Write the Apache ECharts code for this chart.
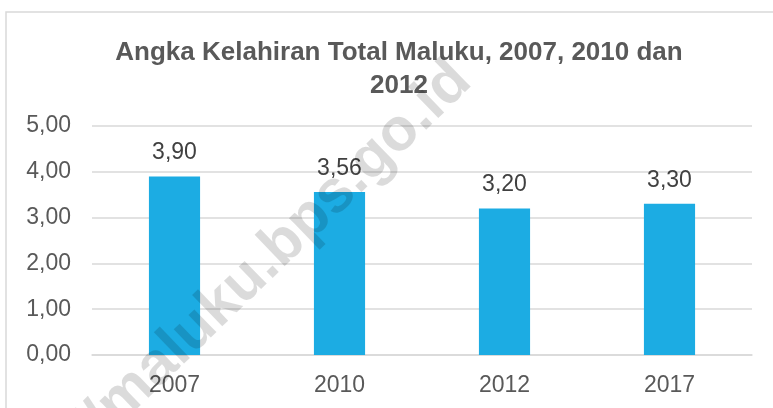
<!DOCTYPE html>
<html>
<head>
<meta charset="utf-8">
<script src="https://cdn.jsdelivr.net/npm/echarts@6/dist/echarts.min.js"></script>
<style>
html,body{margin:0;padding:0;background:#fff;}
#chart{width:773px;height:408px;}
</style>
</head>
<body>
<div id="chart"></div>
<script>
var categories = ['2007', '2010', '2012', '2017'];
var values = [3.90, 3.56, 3.20, 3.30];
var yTicks = [0, 1, 2, 3, 4, 5];
var titleText = 'Angka Kelahiran Total Maluku, 2007, 2010 dan\n2012';
var watermarkText = 'http://maluku.bps.go.id';

var FONT = '"Liberation Sans", Arial, sans-serif';
var chart = echarts.init(document.getElementById('chart'), null, {renderer: 'canvas'});
function fmt(v) { return v.toFixed(2).replace('.', ','); }

chart.setOption({
  animation: false,
  backgroundColor: '#ffffff',
  title: {
    text: titleText,
    left: 394,
    top: 31,
    textAlign: 'center',
    textStyle: {
      fontFamily: FONT, fontSize: 26, fontWeight: 'bold', color: '#595959', lineHeight: 33, align: 'center'
    }
  },
  grid: { left: 92, right: 21, top: 126, bottom: 53, containLabel: false },
  xAxis: {
    type: 'category',
    data: categories,
    axisLine: { show: true, lineStyle: { color: '#d9d9d9', width: 1.5 } },
    axisTick: { show: false },
    axisLabel: { fontFamily: FONT, fontSize: 23, color: '#595959', margin: 19, lineHeight: 23 }
  },
  yAxis: {
    type: 'value',
    min: yTicks[0],
    max: yTicks[yTicks.length - 1],
    interval: 1,
    axisLine: { show: false },
    axisTick: { show: false },
    splitLine: { lineStyle: { color: '#d9d9d9', width: 1.5 } },
    axisLabel: { fontFamily: FONT, fontSize: 23, color: '#595959', margin: 21, formatter: function (v) { return fmt(v); } }
  },
  series: [{
    type: 'bar',
    data: values,
    barWidth: '31%',
    itemStyle: { color: '#1CACE3' },
    label: {
      show: true, position: 'top', distance: 12,
      fontFamily: FONT, fontSize: 23, color: '#404040',
      formatter: function (p) { return fmt(p.value); }
    }
  }],
  graphic: [
    {
      type: 'rect', z: 100, silent: true,
      shape: { x: 6, y: 12, width: 900, height: 600 },
      style: { fill: null, stroke: '#d9d9d9', lineWidth: 1.5 }
    },
    {
      type: 'text', z: 100, silent: true,
      x: 462, y: 72, rotation: 44 * Math.PI / 180,
      style: {
        text: watermarkText, fontFamily: FONT, fontSize: 60, fontWeight: 'bold',
        fill: 'rgba(0,0,0,0.14)', align: 'right', verticalAlign: 'middle'
      }
    }
  ]
});
</script>
</body>
</html>
